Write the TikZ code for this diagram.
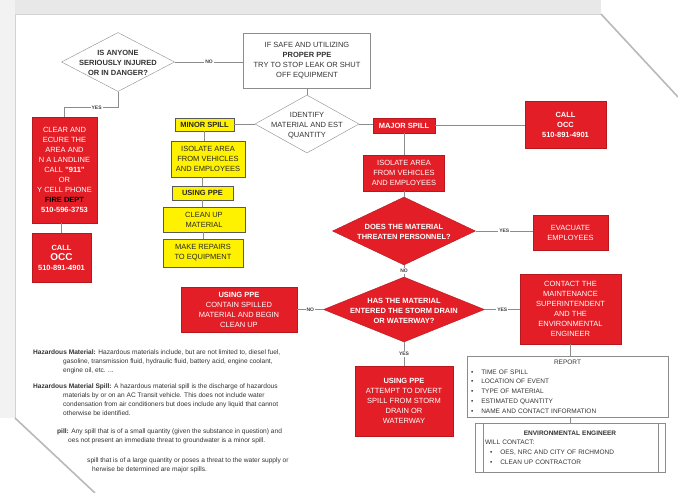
\documentclass[tikz,border=0pt]{standalone}
\usepackage{fontspec}
\setmainfont{Liberation Sans}
\usetikzlibrary{shapes.geometric, calc, positioning}
\definecolor{spillred}{HTML}{E31E26}
\definecolor{spillyellow}{HTML}{FFF200}
\definecolor{linegris}{HTML}{8C8C8C}

% text set inside a diamond without changing its size
\newcommand{\diamtext}[1]{\makebox[0pt]{\raisebox{-0.5\height}[0pt][0pt]{\begin{tabular}[b]{@{}c@{}}#1\end{tabular}}}}

\begin{document}
\begin{tikzpicture}[x=1pt, y=-1pt,
  every node/.style={font=\fontsize{7.5}{10}\selectfont, align=center},
  redbox/.style={draw=spillred!80!black, fill=spillred, text=white, inner sep=1pt},
  yelbox/.style={draw=black!65, fill=spillyellow, text=black!85, inner sep=1pt},
  whitebox/.style={draw=linegris, fill=white, text=black!80, inner sep=1pt},
  reddiam/.style={diamond, draw=spillred!80!black, fill=spillred, text=white, inner sep=0pt, font=\fontsize{7.5}{10}\selectfont\bfseries},
  whitediam/.style={diamond, draw=linegris, fill=white, text=black!80, inner sep=0pt},
  conn/.style={draw=linegris, line width=0.8pt},
  lbl/.style={fill=white, inner sep=1pt, font=\fontsize{5}{6}\selectfont\bfseries, text=black!75},
  deftext/.style={anchor=north west, inner sep=0pt, align=left, text=black!80, font=\fontsize{6.6}{9}\selectfont}]

  \useasboundingbox (0,0) rectangle (678,493);

  % Page
  \fill[white] (0,0) rectangle (678,493);
  \fill[gray!18] (0,0) rectangle (601,14);
  \fill[gray!10] (0,0) rectangle (15,418);
  \fill[white] (15,14) -- (601,14) -- (678,97) -- (678,493) -- (95,493) -- (15,418) -- cycle;
  \draw[gray!35, line width=1pt] (15,418) -- (15,14) -- (601,14);
  \draw[gray!55, line width=1.6pt] (601,14) -- (678,97);
  \draw[gray!55, line width=1.6pt] (15,418) -- (95,493);

  % Injured?
  \node[whitediam, minimum width=113, minimum height=59, font=\fontsize{7.5}{10}\selectfont\bfseries] (injured) at (118,62)
    {\diamtext{IS ANYONE\\SERIOUSLY INJURED\\OR IN DANGER?}};
  \node[whitebox, minimum width=127, minimum height=55] (safe) at (307,60.5)
    {IF SAFE AND UTILIZING\\\textbf{PROPER PPE}\\TRY TO STOP LEAK OR SHUT\\OFF EQUIPMENT};

  % Yes branch
  \node[redbox, minimum width=65, minimum height=106] (clear) at (64.5,170)
    {CLEAR AND\\ECURE THE\\AREA AND\\N A LANDLINE\\CALL \textbf{"911"}\\OR\\Y CELL PHONE\\\textcolor{black}{\textbf{FIRE DEPT}}\\\textbf{510-596-3753}};
  \node[redbox, minimum width=59, minimum height=49] (occa) at (61.5,257.5)
    {\textbf{CALL}\\{\fontsize{10}{12}\selectfont\bfseries OCC}\\\textbf{510-891-4901}};

  % Identify
  \node[whitediam, minimum width=104, minimum height=58] (identify) at (307,124)
    {\diamtext{IDENTIFY\\MATERIAL AND EST\\QUANTITY}};

  % Minor spill
  \node[yelbox, minimum width=59, minimum height=13] (minor) at (204.5,124.5) {\textbf{MINOR SPILL}};
  \node[yelbox, minimum width=74, minimum height=36] (isoy) at (208,159) {ISOLATE AREA\\FROM VEHICLES\\AND EMPLOYEES};
  \node[yelbox, minimum width=61, minimum height=14] (ppey) at (202.5,193) {\textbf{USING PPE}};
  \node[yelbox, minimum width=82, minimum height=25] (cleanup) at (204,219.5) {CLEAN UP\\MATERIAL};
  \node[yelbox, minimum width=80, minimum height=28] (repairs) at (203,253) {MAKE REPAIRS\\TO EQUIPMENT};

  % Major spill
  \node[redbox, minimum width=62, minimum height=15] (major) at (404,125.5) {\textbf{MAJOR SPILL}};
  \node[redbox, minimum width=81, minimum height=47] (occb) at (565.5,124.5) {\textbf{CALL}\\\textbf{OCC}\\\textbf{510-891-4901}};
  \node[redbox, minimum width=81, minimum height=36] (isor) at (404,173) {ISOLATE AREA\\FROM VEHICLES\\AND EMPLOYEES};
  \node[reddiam, minimum width=143, minimum height=68] (threat) at (404,231)
    {\diamtext{DOES THE MATERIAL\\THREATEN PERSONNEL?}};
  \node[redbox, minimum width=75, minimum height=35] (evac) at (570.5,232.5) {EVACUATE\\EMPLOYEES};
  \node[reddiam, minimum width=161, minimum height=65] (drain) at (404,309.5)
    {\diamtext{HAS THE MATERIAL\\ENTERED THE STORM DRAIN\\OR WATERWAY?}};
  \node[redbox, minimum width=116, minimum height=45] (contain) at (239,309.5)
    {\textbf{USING PPE}\\CONTAIN SPILLED\\MATERIAL AND BEGIN\\CLEAN UP};
  \node[redbox, minimum width=101, minimum height=70] (contact) at (570.5,309)
    {CONTACT THE\\MAINTENANCE\\SUPERINTENDENT\\AND THE\\ENVIRONMENTAL\\ENGINEER};
  \node[redbox, minimum width=98, minimum height=70] (divert) at (404,401)
    {\textbf{USING PPE}\\ATTEMPT TO DIVERT\\SPILL FROM STORM\\DRAIN OR\\WATERWAY};

  % Report
  \node[whitebox, minimum width=201, minimum height=61, text width=193, inner xsep=4, inner ysep=0, align=left,
    font=\fontsize{6.5}{9.8}\selectfont] (report) at (567.5,386.5)
    {\makebox[\linewidth]{REPORT}\\
     \textbullet\hspace{8pt}TIME OF SPILL\\
     \textbullet\hspace{8pt}LOCATION OF EVENT\\
     \textbullet\hspace{8pt}TYPE OF MATERIAL\\
     \textbullet\hspace{8pt}ESTIMATED QUANTITY\\
     \textbullet\hspace{8pt}NAME AND CONTACT INFORMATION};
  \node[whitebox, minimum width=190, minimum height=49, text width=170, inner xsep=10, inner ysep=0, align=left,
    font=\fontsize{6.5}{9.8}\selectfont] (engineer) at (570,447.5)
    {\makebox[\linewidth]{\textbf{ENVIRONMENTAL ENGINEER}}\\
     WILL CONTACT:\\
     \hspace*{5pt}\textbullet\hspace{8pt}OES, NRC AND CITY OF RICHMOND\\
     \hspace*{5pt}\textbullet\hspace{8pt}CLEAN UP CONTRACTOR};
  \draw[linegris] ([xshift=8]engineer.north west) -- ([xshift=8]engineer.south west);
  \draw[linegris] ([xshift=-7]engineer.north east) -- ([xshift=-7]engineer.south east);

  % Connectors
  \draw[conn] (injured.east) -- node[lbl]{NO} (injured.east -| safe.west);
  \draw[conn] (injured.south) -- ++(0,16) -| node[lbl, pos=0.2]{YES} (clear.north);
  \draw[conn] (occa.north |- clear.south) -- (occa.north);
  \draw[conn] (safe.south) -- (identify.north);
  \draw[conn] (identify.west) -- (identify.west -| minor.east);
  \draw[conn] (minor.south) -- (minor.south |- isoy.north);
  \draw[conn] (ppey.north |- isoy.south) -- (ppey.north);
  \draw[conn] (ppey.south) -- (ppey.south |- cleanup.north);
  \draw[conn] (repairs.north |- cleanup.south) -- (repairs.north);
  \draw[conn] (identify.east) -- (identify.east -| major.west);
  \draw[conn] (major.east) -- (major.east -| occb.west);
  \draw[conn] (major.south) -- (isor.north);
  \draw[conn] (isor.south) -- (threat.north);
  \draw[conn] (threat.east) -- node[lbl]{YES} (threat.east -| evac.west);
  \draw[conn] (threat.south) -- node[lbl]{NO} (drain.north);
  \draw[conn] (drain.west) -- node[lbl]{NO} (drain.west -| contain.east);
  \draw[conn] (drain.east) -- node[lbl]{YES} (drain.east -| contact.west);
  \draw[conn] (drain.south) -- node[lbl]{YES} (divert.north);
  \draw[conn] (contact.south) -- (contact.south |- report.north);
  \draw[conn] (engineer.north |- report.south) -- (engineer.north);

  % Definitions
  \node[deftext] (def1) at (33,350)
    {\textbf{Hazardous Material:} Hazardous materials include, but are not limited to, diesel fuel,\\
     \hspace*{30pt}gasoline, transmission fluid, hydraulic fluid, battery acid, engine coolant,\\
     \hspace*{30pt}engine oil, etc. ...};
  \node[deftext] (def2) at (33,384)
    {\textbf{Hazardous Material Spill:} A hazardous material spill is the discharge of hazardous\\
     \hspace*{30pt}materials by or on an AC Transit vehicle. This does not include water\\
     \hspace*{30pt}condensation from air conditioners but does include any liquid that cannot\\
     \hspace*{30pt}otherwise be identified.};
  \node[deftext] (def3) at (57,429)
    {\textbf{pill:} Any spill that is of a small quantity (given the substance in question) and\\
     \hspace*{11pt}oes not present an immediate threat to groundwater is a minor spill.};
  \node[deftext] (def4) at (87,458)
    {spill that is of a large quantity or poses a threat to the water supply or\\
     \hspace*{5pt}herwise be determined are major spills.};

\end{tikzpicture}
\end{document}
